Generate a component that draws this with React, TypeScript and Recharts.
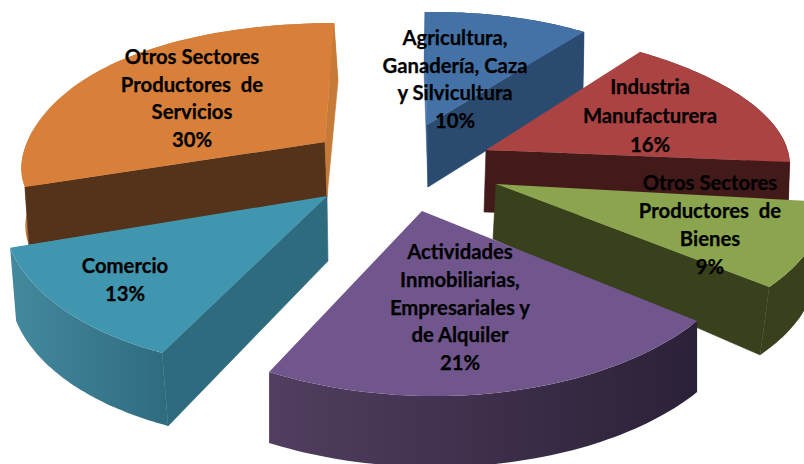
import { PieChart, Pie } from 'recharts';

// drawn back to front, so the orange slice goes first and teal can sit on top of it
const categories = [
  'Otros Sectores Productores de Servicios',
  'Agricultura, Ganadería, Caza y Silvicultura',
  'Industria Manufacturera',
  'Otros Sectores Productores de Bienes',
  'Actividades Inmobiliarias, Empresariales y de Alquiler',
  'Comercio',
];
const values = [30, 10, 16, 9, 21, 13];

const labelLines = [
  ['Otros Sectores', 'Productores  de', 'Servicios'],
  ['Agricultura,', 'Ganadería, Caza', 'y Silvicultura'],
  ['Industria', 'Manufacturera'],
  ['Otros Sectores', 'Productores  de', 'Bienes'],
  ['Actividades', 'Inmobiliarias,', 'Empresariales y', 'de Alquiler'],
  ['Comercio'],
];
const labelX = [192, 455, 650, 710, 460, 125];
const labelTop = [57, 38, 87, 183, 252, 266];
const labelStep = [27.7, 27.5, 29, 28, 27.8, 28];

// per slice projection of the pie plane: centre, image of the x and y unit vectors,
// extrusion at the rim (d) and at the centre (dc), small rim correction for perspective (warp)
const views = [
  { c: [325, 142], x: [314.4, -6.5], y: [-9, 119], d: [4, 58], dc: [2, 55], warp: [-0.035, -0.03] },
  { c: [427, 125], x: [267.5, -3.4], y: [2, 113], d: [-1, 58], dc: [1, 62], warp: [0, 0] },
  { c: [486, 150], x: [302.2, 2.2], y: [31.5, 123.3], d: [-2, 60], dc: [-2, 62], warp: [0, 0] },
  { c: [496, 184], x: [329.8, 5], y: [17.8, 163.5], d: [-9, 68], dc: [-3, 55], warp: [0, 0] },
  { c: [422, 211], x: [354.6, 3.4], y: [-11.7, 177.2], d: [0, 71], dc: [0, 71], warp: [0.05, 0] },
  { c: [327, 196], x: [321.8, 5.2], y: [-39.2, 173.5], d: [6, 73], dc: [1, 65], warp: [0, 0] },
];

const topColors = ['#d8803a', '#4472a6', '#aa4342', '#8aa54e', '#70568c', '#4096ae'];
const startCutColors = ['#55331a', '#4472a6', '#431a1a', '#38401c', '#3a2b4a', '#2f6b7f'];
const endCutColors = ['#c67a38', '#2b4a6f', '#431a1a', '#38401c', '#3a2b4a', '#2f6b7f'];
const arcColors = [
  ['#c67a38', '#c67a38'],
  ['#2b4a6f', '#2b4a6f'],
  ['#431a1a', '#431a1a'],
  ['#38401c', '#38401c'],
  ['#2b2137', '#513e60'],
  ['#2f6b7f', '#44899f'],
];

const data = categories.map((name, i) => ({ name, value: values[i] }));
const total = values.reduce((a, b) => a + b, 0);
const firstAngle = 90 + (values[0] / total) * 360;

const RAD = Math.PI / 180;

function project(i: number, angle: number, t: number) {
  const v = views[i];
  const cos = Math.cos(angle * RAD);
  const sin = Math.sin(angle * RAD);
  const r = 1 + v.warp[0] * Math.sin(Math.PI * t) + v.warp[1] * Math.sin(2 * Math.PI * t);
  return [
    v.c[0] + (v.x[0] * cos - v.y[0] * sin) * r,
    v.c[1] + (v.x[1] * cos - v.y[1] * sin) * r,
  ];
}

const toPath = (pts: number[][]) =>
  'M' + pts.map((p) => `${p[0].toFixed(1)},${p[1].toFixed(1)}`).join('L') + 'Z';

const cross = (a: number[], b: number[]) => a[0] * b[1] - a[1] * b[0];

function renderSlice(props: any) {
  const i = categories.indexOf(props.name);
  const { startAngle, endAngle } = props;
  const v = views[i];
  const arc: number[][] = [];
  for (let k = 0; k <= 60; k++) {
    arc.push(project(i, startAngle + ((endAngle - startAngle) * k) / 60, k / 60));
  }
  const shift = (p: number[]) => [p[0] + v.d[0], p[1] + v.d[1]];
  const base = [v.c[0] + v.dc[0], v.c[1] + v.dc[1]];
  const first = arc[0];
  const last = arc[arc.length - 1];
  const mid = arc[30];
  const rel = (p: number[]) => [p[0] - v.c[0], p[1] - v.c[1]];

  // a cut face shows when the extrusion points away from the slice interior
  const showsCut = (edge: number[]) => cross(rel(edge), rel(mid)) * cross(rel(edge), v.d) < 0;
  const gradId = `arc-side-${i}`;

  return (
    <g>
      <defs>
        <linearGradient id={gradId} x1="1" y1="0" x2="0" y2="0">
          <stop offset="0%" stopColor={arcColors[i][0]} />
          <stop offset="100%" stopColor={arcColors[i][1]} />
        </linearGradient>
      </defs>
      <path d={toPath([...arc, ...[...arc].reverse().map(shift)])} fill={`url(#${gradId})`} />
      {showsCut(first) && (
        <path
          d={toPath([v.c, first, shift(first), base])}
          fill={startCutColors[i]}
          stroke={startCutColors[i]}
          strokeWidth={0.6}
        />
      )}
      {showsCut(last) && (
        <path
          d={toPath([v.c, last, shift(last), base])}
          fill={endCutColors[i]}
          stroke={endCutColors[i]}
          strokeWidth={0.6}
        />
      )}
      <path d={toPath([v.c, ...arc])} fill={topColors[i]} />
    </g>
  );
}

function renderLabel(props: any) {
  const i = categories.indexOf(props.name);
  const lines = [...labelLines[i], `${values[i]}%`];
  return (
    <text
      x={labelX[i]}
      y={labelTop[i]}
      textAnchor="middle"
      fontFamily="Lato, sans-serif"
      fontWeight={700}
      fontSize={20.3}
      fill="#000"
      stroke="#000"
      strokeWidth={0.25}
      style={{ whiteSpace: 'pre' }}
    >
      {lines.map((line, k) => (
        <tspan key={k} x={labelX[i]} y={labelTop[i] + k * labelStep[i] + 7}>
          {line}
        </tspan>
      ))}
    </text>
  );
}

export default function App() {
  return (
    <div style={{ position: 'absolute', left: 0, top: 0, width: 804, height: 464, overflow: 'hidden' }}>
      <PieChart width={804} height={464} margin={{ top: 0, right: 0, bottom: 0, left: 0 }}>
        <Pie
          data={data}
          dataKey="value"
          nameKey="name"
          cx={402}
          cy={232}
          outerRadius={200}
          startAngle={firstAngle}
          endAngle={firstAngle - 360}
          shape={renderSlice}
          label={renderLabel}
          labelLine={false}
          stroke="none"
          isAnimationActive={false}
        />
      </PieChart>
    </div>
  );
}
